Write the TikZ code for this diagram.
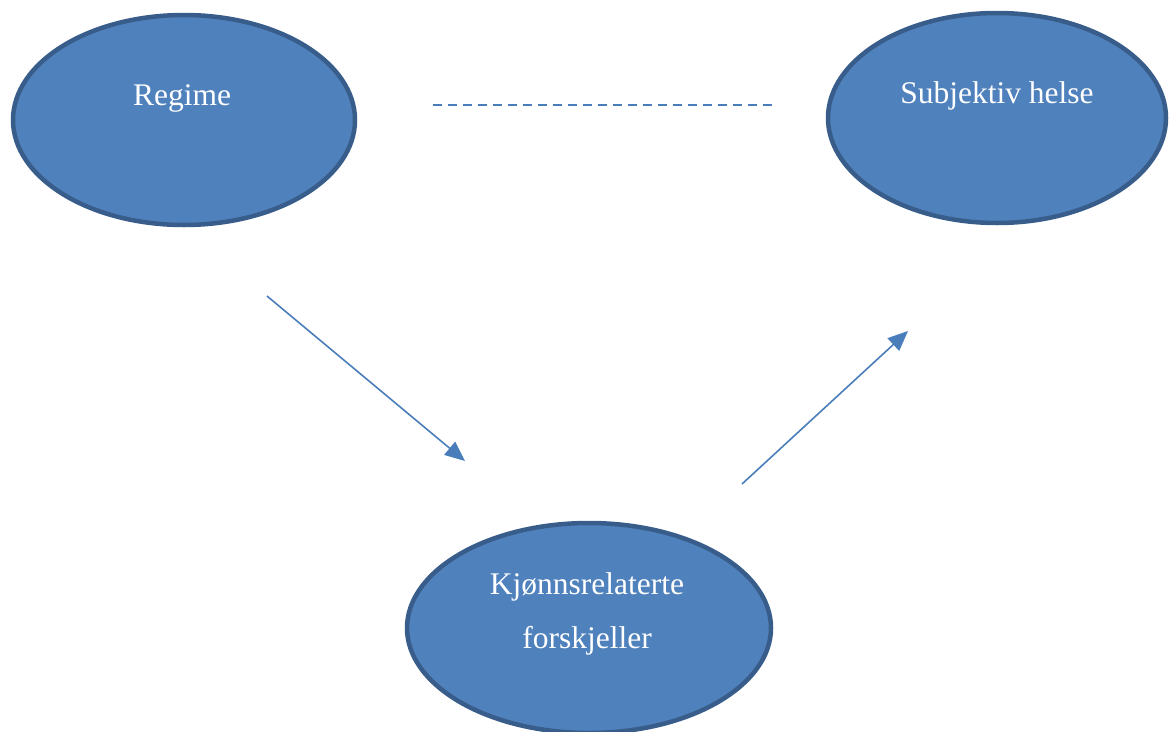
\documentclass[tikz,border=0pt]{standalone}
\usepackage{fontspec}
\setmainfont{Liberation Serif}
\usetikzlibrary{shapes.geometric,arrows.meta}
\definecolor{fillblue}{HTML}{4F81BD}
\definecolor{edgeblue}{HTML}{385D8A}
\definecolor{lineblue}{HTML}{4A7EBB}
\begin{document}
\begin{tikzpicture}[x=1pt,y=-1pt,
  oval/.style={ellipse,draw=edgeblue,fill=fillblue,line width=4.5pt,inner sep=0pt},
  lbl/.style={text=white,font=\fontsize{31.5}{54}\selectfont,align=center},
  conn/.style={draw=lineblue,line width=1.6pt,-{Triangle[length=20pt,width=17pt]}}]
\useasboundingbox (0,0) rectangle (1169,731);
\node[oval,minimum width=342pt,minimum height=210pt] (regime) at (184,120) {};
\node[oval,minimum width=338pt,minimum height=210pt] (helse) at (997,118) {};
\node[oval,minimum width=364pt,minimum height=210pt] (kjonn) at (589,628) {};
\node[lbl] (tregime) at (182,98) {Regime};
\node[lbl] (thelse) at (997,96) {Subjektiv helse};
\node[lbl] (tkjonn) at (587,614) {Kjønnsrelaterte\\forskjeller};
\coordinate (d1) at (433,105);
\coordinate (d2) at (772,105);
\draw[lineblue,line width=1.6pt,dash pattern=on 9pt off 6pt] (d1) -- (d2);
\coordinate (a1s) at (267,296);
\coordinate (a1e) at (465,461);
\coordinate (a2s) at (742,484);
\coordinate (a2e) at (908,331);
\draw[conn] (a1s) -- (a1e);
\draw[conn] (a2s) -- (a2e);
\end{tikzpicture}
\end{document}
